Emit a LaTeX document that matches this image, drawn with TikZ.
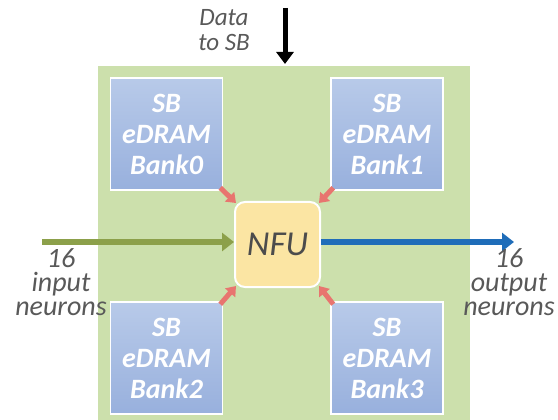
\documentclass[tikz,border=0pt]{standalone}
\usepackage{fontspec}
\setmainfont{Carlito}
\usetikzlibrary{arrows.meta,calc}
\definecolor{bggreen}{HTML}{CCE0AC}
\definecolor{banktop}{HTML}{B8CAE9}
\definecolor{bankbot}{HTML}{98B0DD}
\definecolor{nfufill}{HTML}{FBE5A3}
\definecolor{txtgray}{HTML}{595959}
\definecolor{inolive}{HTML}{8CA04A}
\definecolor{outblue}{HTML}{1F6DB9}
\definecolor{feedred}{HTML}{E8756F}
\tikzset{
  x=1pt, y=-1pt,
  bank/.style={draw=white, line width=1.5pt, top color=banktop, bottom color=bankbot,
    minimum width=112pt, minimum height=112pt, inner sep=0pt,
    font=\fontsize{28}{31}\selectfont\bfseries\itshape, text=white, align=center},
  nfu/.style={draw=white, line width=2pt, fill=nfufill, rounded corners=10pt,
    minimum width=85pt, minimum height=85pt, font=\fontsize{35}{38}\selectfont\itshape, text=txtgray!85!black},
  lbl/.style={font=\fontsize{28}{24}\selectfont\itshape, text=txtgray, align=center, inner sep=0pt},
  feed/.style={draw=feedred, line width=5pt, -{Triangle[length=9pt,width=13pt]}},
}
\begin{document}
\begin{tikzpicture}
\useasboundingbox (0,0) rectangle (558,420);
\fill[bggreen] (98,66) rectangle (470,425);

\node[bank] (b0) at (166.5,134) {SB\\eDRAM\\Bank0};
\node[bank] (b1) at (387,134) {SB\\eDRAM\\Bank1};
\node[bank] (b2) at (166.5,358) {SB\\eDRAM\\Bank2};
\node[bank] (b3) at (387,358) {SB\\eDRAM\\Bank3};

\node[nfu] (nfu) at (277.5,244.5) {NFU};

\draw[feed] ($(b0.south east)+(-3,-3)$) -- ($(nfu.north west)+(2,2)$);
\draw[feed] ($(b1.south west)+(3,-3)$) -- ($(nfu.north east)+(-2,2)$);
\draw[feed] ($(b2.north east)+(-3,3)$) -- ($(nfu.south west)+(2,-2)$);
\draw[feed] ($(b3.north west)+(3,3)$) -- ($(nfu.south east)+(-2,-2)$);

\coordinate (inl) at (42,242);
\coordinate (outr) at (514,242);
\draw[inolive, line width=6pt, -{Triangle[length=12pt,width=18pt]}] (inl) -- (nfu.west |- inl);
\draw[outblue, line width=6pt, -{Triangle[length=12pt,width=18pt]}] (nfu.east |- outr) -- (outr);

\coordinate (dtop) at (285,8);
\coordinate (dbot) at (285,64);
\draw[black, line width=5pt, -{Triangle[length=12pt,width=17pt]}] (dtop) -- (dbot);

\node[lbl, font=\fontsize{25}{25}\selectfont\itshape, anchor=north] (dlbl) at (224,9) {Data\\to SB};
\node[lbl, anchor=north] (inlbl) at (61,248) {16\\input\\neurons};
\node[lbl, anchor=north] (outlbl) at (509,248) {16\\output\\neurons};
\end{tikzpicture}
\end{document}
